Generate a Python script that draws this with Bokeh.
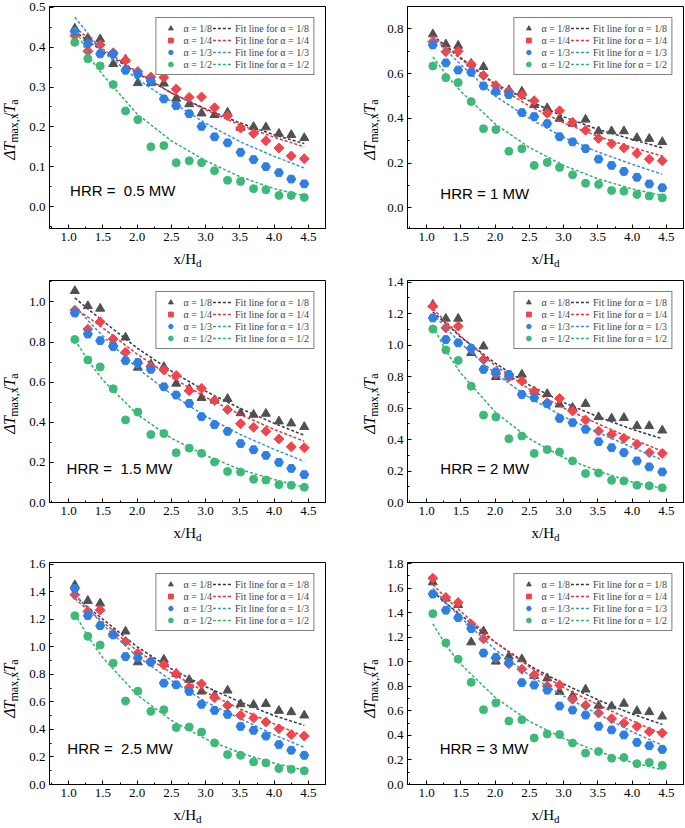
from math import pi
from bokeh.plotting import figure
from bokeh.layouts import column, row
from bokeh.models import (Range1d, SingleIntervalTicker, PrintfTickFormatter,
                          Legend, LegendItem, Label)
from bokeh.embed import file_html
from bokeh.resources import INLINE

# ---------------- data ----------------
x_pos = [1.09, 1.28, 1.46, 1.65, 1.83, 2.01, 2.20, 2.39, 2.57, 2.76,
         2.94, 3.13, 3.32, 3.51, 3.70, 3.88, 4.07, 4.25, 4.44]
fit_x = [1.09, 1.3, 1.5, 2.0, 2.5, 3.0, 3.5, 4.0, 4.44]
alpha_labels = ["1/8", "1/4", "1/3", "1/2"]
hrr_labels = ["HRR =\u00a0 0.5 MW", "HRR = 1 MW", "HRR =\u00a0 1.5 MW",
              "HRR = 2 MW", "HRR =\u00a0 2.5 MW", "HRR = 3 MW"]

# HRR = 0.5 MW
hrr05_a8 = [0.447, 0.423, 0.420, 0.358, 0.369, 0.310, 0.310, 0.309, 0.271, 0.257, 0.234, 0.230, 0.236, 0.198, 0.200, 0.199, 0.183, 0.180, 0.172]
hrr05_a4 = [0.429, 0.390, 0.406, 0.386, 0.367, 0.339, 0.325, 0.324, 0.295, 0.274, 0.275, 0.248, 0.228, 0.197, 0.183, 0.165, 0.147, 0.127, 0.120]
hrr05_a3 = [0.439, 0.409, 0.383, 0.383, 0.342, 0.333, 0.315, 0.270, 0.253, 0.233, 0.201, 0.175, 0.160, 0.136, 0.118, 0.100, 0.085, 0.069, 0.057]
hrr05_a2 = [0.412, 0.371, 0.353, 0.306, 0.240, 0.218, 0.150, 0.153, 0.110, 0.115, 0.110, 0.090, 0.066, 0.063, 0.045, 0.042, 0.028, 0.028, 0.023]
hrr05_fit_a8 = [0.440, 0.413, 0.390, 0.335, 0.285, 0.245, 0.210, 0.180, 0.158]
hrr05_fit_a4 = [0.450, 0.420, 0.395, 0.338, 0.285, 0.243, 0.205, 0.174, 0.150]
hrr05_fit_a3 = [0.475, 0.430, 0.388, 0.320, 0.263, 0.209, 0.163, 0.126, 0.097]
hrr05_fit_a2 = [0.450, 0.375, 0.330, 0.232, 0.165, 0.115, 0.075, 0.045, 0.027]

# HRR = 1 MW
hrr1_a8 = [0.776, 0.731, 0.725, 0.645, 0.630, 0.520, 0.527, 0.520, 0.460, 0.446, 0.399, 0.377, 0.395, 0.343, 0.343, 0.343, 0.313, 0.309, 0.295]
hrr1_a4 = [0.743, 0.698, 0.700, 0.642, 0.592, 0.547, 0.521, 0.505, 0.479, 0.423, 0.434, 0.383, 0.347, 0.310, 0.286, 0.268, 0.243, 0.218, 0.211]
hrr1_a3 = [0.728, 0.648, 0.616, 0.606, 0.545, 0.521, 0.506, 0.426, 0.408, 0.377, 0.318, 0.295, 0.265, 0.218, 0.190, 0.163, 0.137, 0.107, 0.090]
hrr1_a2 = [0.634, 0.582, 0.560, 0.475, 0.354, 0.350, 0.253, 0.264, 0.190, 0.203, 0.181, 0.148, 0.110, 0.105, 0.078, 0.075, 0.060, 0.053, 0.045]
hrr1_fit_a8 = [0.770, 0.720, 0.670, 0.554, 0.479, 0.407, 0.351, 0.306, 0.268]
hrr1_fit_a4 = [0.770, 0.715, 0.665, 0.550, 0.455, 0.380, 0.320, 0.270, 0.232]
hrr1_fit_a3 = [0.765, 0.700, 0.640, 0.500, 0.400, 0.315, 0.250, 0.195, 0.150]
hrr1_fit_a2 = [0.675, 0.590, 0.520, 0.375, 0.270, 0.190, 0.130, 0.085, 0.055]

# HRR = 1.5 MW
hrr15_a8 = [1.055, 0.980, 0.967, 0.793, 0.823, 0.673, 0.689, 0.676, 0.593, 0.567, 0.522, 0.509, 0.517, 0.446, 0.438, 0.443, 0.405, 0.395, 0.377]
hrr15_a4 = [0.959, 0.864, 0.901, 0.815, 0.749, 0.694, 0.678, 0.661, 0.633, 0.557, 0.570, 0.509, 0.463, 0.393, 0.375, 0.355, 0.317, 0.278, 0.273]
hrr15_a3 = [0.945, 0.840, 0.807, 0.777, 0.707, 0.698, 0.664, 0.577, 0.536, 0.494, 0.428, 0.388, 0.355, 0.294, 0.263, 0.235, 0.200, 0.170, 0.139]
hrr15_a2 = [0.813, 0.711, 0.676, 0.567, 0.412, 0.451, 0.339, 0.344, 0.248, 0.271, 0.245, 0.202, 0.155, 0.152, 0.116, 0.112, 0.089, 0.086, 0.076]
hrr15_fit_a8 = [1.020, 0.960, 0.905, 0.770, 0.655, 0.555, 0.470, 0.395, 0.335]
hrr15_fit_a4 = [0.970, 0.920, 0.870, 0.740, 0.625, 0.525, 0.440, 0.365, 0.305]
hrr15_fit_a3 = [0.980, 0.900, 0.830, 0.670, 0.540, 0.430, 0.340, 0.265, 0.205]
hrr15_fit_a2 = [0.810, 0.700, 0.610, 0.440, 0.320, 0.235, 0.165, 0.115, 0.075]

# HRR = 2 MW
hrr2_a8 = [1.256, 1.168, 1.168, 0.950, 0.992, 0.798, 0.796, 0.813, 0.707, 0.690, 0.623, 0.602, 0.627, 0.543, 0.534, 0.538, 0.486, 0.486, 0.458]
hrr2_a4 = [1.246, 1.109, 1.119, 0.978, 0.908, 0.817, 0.798, 0.771, 0.707, 0.633, 0.661, 0.581, 0.524, 0.454, 0.433, 0.408, 0.370, 0.317, 0.312]
hrr2_a3 = [1.172, 1.035, 1.014, 0.978, 0.845, 0.830, 0.813, 0.686, 0.665, 0.627, 0.534, 0.507, 0.465, 0.386, 0.348, 0.317, 0.264, 0.226, 0.194]
hrr2_a2 = [1.102, 0.969, 0.902, 0.739, 0.555, 0.543, 0.405, 0.422, 0.312, 0.336, 0.321, 0.264, 0.184, 0.188, 0.141, 0.137, 0.110, 0.106, 0.093]
hrr2_fit_a8 = [1.210, 1.130, 1.050, 0.885, 0.745, 0.635, 0.545, 0.465, 0.405]
hrr2_fit_a4 = [1.230, 1.140, 1.055, 0.870, 0.720, 0.600, 0.500, 0.405, 0.325]
hrr2_fit_a3 = [1.200, 1.100, 1.010, 0.820, 0.665, 0.545, 0.445, 0.350, 0.270]
hrr2_fit_a2 = [1.120, 0.950, 0.820, 0.575, 0.405, 0.285, 0.200, 0.130, 0.090]

# HRR = 2.5 MW
hrr25_a8 = [1.448, 1.334, 1.315, 1.093, 1.112, 0.888, 0.900, 0.907, 0.804, 0.760, 0.676, 0.647, 0.683, 0.584, 0.579, 0.586, 0.536, 0.526, 0.502]
hrr25_a4 = [1.378, 1.257, 1.267, 1.093, 1.038, 0.953, 0.895, 0.869, 0.804, 0.707, 0.731, 0.630, 0.574, 0.502, 0.483, 0.454, 0.405, 0.362, 0.352]
hrr25_a3 = [1.424, 1.226, 1.153, 1.086, 0.929, 0.919, 0.888, 0.736, 0.724, 0.676, 0.582, 0.538, 0.509, 0.422, 0.393, 0.352, 0.290, 0.249, 0.212]
hrr25_a2 = [1.226, 1.076, 1.013, 0.881, 0.606, 0.678, 0.531, 0.543, 0.413, 0.417, 0.381, 0.302, 0.217, 0.212, 0.164, 0.157, 0.116, 0.111, 0.099]
hrr25_fit_a8 = [1.370, 1.280, 1.200, 1.000, 0.840, 0.710, 0.600, 0.500, 0.430]
hrr25_fit_a4 = [1.350, 1.260, 1.180, 0.970, 0.810, 0.670, 0.550, 0.440, 0.350]
hrr25_fit_a3 = [1.380, 1.270, 1.160, 0.930, 0.755, 0.600, 0.480, 0.360, 0.270]
hrr25_fit_a2 = [1.240, 1.060, 0.920, 0.650, 0.465, 0.330, 0.230, 0.155, 0.105]

# HRR = 3 MW
hrr3_a8 = [1.649, 1.517, 1.465, 1.160, 1.250, 1.003, 1.044, 1.022, 0.885, 0.866, 0.756, 0.723, 0.775, 0.643, 0.638, 0.660, 0.599, 0.591, 0.555]
hrr3_a4 = [1.682, 1.525, 1.484, 1.305, 1.187, 1.030, 0.984, 0.940, 0.893, 0.802, 0.811, 0.695, 0.646, 0.583, 0.536, 0.500, 0.473, 0.431, 0.420]
hrr3_a3 = [1.553, 1.421, 1.360, 1.272, 1.072, 1.036, 0.995, 0.830, 0.811, 0.769, 0.640, 0.607, 0.566, 0.475, 0.445, 0.404, 0.343, 0.316, 0.286]
hrr3_a2 = [1.393, 1.154, 1.022, 0.833, 0.610, 0.665, 0.517, 0.528, 0.379, 0.412, 0.407, 0.338, 0.256, 0.269, 0.214, 0.220, 0.170, 0.179, 0.157]
hrr3_fit_a8 = [1.570, 1.470, 1.380, 1.160, 0.970, 0.820, 0.690, 0.575, 0.490]
hrr3_fit_a4 = [1.630, 1.510, 1.410, 1.160, 0.960, 0.790, 0.650, 0.520, 0.412]
hrr3_fit_a3 = [1.600, 1.470, 1.360, 1.100, 0.890, 0.720, 0.575, 0.430, 0.320]
hrr3_fit_a2 = [1.310, 1.120, 0.980, 0.710, 0.515, 0.375, 0.270, 0.180, 0.120]

# ---------------- styling ----------------
marker_kinds = ["triangle", "square", "hex", "circle"]
marker_sizes = [9, 7, 9, 8]
marker_angles = [0.0, pi / 4, 0.0, 0.0]
marker_colors = ["#505050", "#f0454b", "#2f7fe3", "#3dba78"]
fit_colors = ["#2b3556", "#ee3035", "#3a8fe0", "#2fb56a"]
SERIF = "Liberation Serif"

FRAME_W, FRAME_H = 276, 222
BL, BB = 24, 22


def blank_fig(w, h):
    f = figure(width=w, height=h, x_range=Range1d(0, w), y_range=Range1d(0, h),
               x_axis_type=None, y_axis_type=None, output_backend="svg",
               toolbar_location=None, min_border=0)
    f.min_border_left = f.min_border_right = 0
    f.min_border_top = f.min_border_bottom = 0
    f.outline_line_color = None
    f.background_fill_color = "white"
    f.border_fill_color = "white"
    f.grid.visible = False
    return f


def ylabel_fig(w, h, cx):
    f = blank_fig(w, h)
    pieces = [("\u0394", "italic", 16, 9.8, 0), ("T", "italic", 16, 9.2, 0),
              ("max,x", "normal", 12, 29.0, 4), ("/", "normal", 16, 4.6, 0),
              ("T", "italic", 16, 9.2, 0), ("a", "normal", 12, 5.3, 4)]
    total = sum(pc[3] for pc in pieces)
    y = BB + FRAME_H / 2 + 3 - total / 2 - 25
    for txt, style, fs, pw, sub in pieces:
        f.add_layout(Label(x=cx + sub, y=y, text=txt, angle=pi / 2,
                           text_font=SERIF, text_font_style=style,
                           text_font_size=f"{fs}px", text_color="black",
                           text_align="left", text_baseline="middle"))
        y += pw
    return f


def xlabel_fig(w, h, cx):
    f = blank_fig(w, h)
    pieces = [("x/H", 15, 22.5, 0), ("d", 11, 5.5, -4)]
    total = sum(pc[2] for pc in pieces)
    x = cx - total / 2
    for txt, fs, pw, sub in pieces:
        f.add_layout(Label(x=x, y=h - 8 + sub, text=txt, text_font=SERIF,
                           text_font_size=f"{fs}px", text_color="black",
                           text_align="left", text_baseline="middle"))
        x += pw
    return f


def make_panel(hrr_text, series, fits, yr, yint, txt_xy, bt, br):
    w = BL + FRAME_W + br
    h = bt + FRAME_H + BB
    p = figure(width=w, height=h, x_range=Range1d(0.72, 4.75),
               y_range=Range1d(*yr), output_backend="svg",
               toolbar_location=None, min_border_left=BL,
               min_border_right=br, min_border_top=bt, min_border_bottom=BB)
    p.xgrid.visible = False
    p.ygrid.visible = False
    p.outline_line_color = "black"
    p.outline_line_alpha = 1.0
    p.outline_line_width = 1
    p.background_fill_color = "white"
    p.border_fill_color = "white"
    p.xaxis.ticker = SingleIntervalTicker(interval=0.5, num_minor_ticks=2)
    p.yaxis.ticker = SingleIntervalTicker(interval=yint, num_minor_ticks=2)
    for ax in (p.xaxis[0], p.yaxis[0]):
        ax.formatter = PrintfTickFormatter(format="%.1f")
        ax.major_tick_in = 4
        ax.major_tick_out = 0
        ax.minor_tick_in = 2
        ax.minor_tick_out = 0
        ax.axis_line_color = "black"
        ax.major_tick_line_color = "black"
        ax.minor_tick_line_color = "black"
        ax.major_label_text_font = SERIF
        ax.major_label_text_font_size = "13px"
        ax.major_label_text_color = "black"
        ax.major_label_standoff = 4

    pt_items, fit_items = [], []
    for k in range(4):
        rf = p.line(fit_x, fits[k], line_color=fit_colors[k], line_width=1.5,
                    line_dash="3 2")
        rs = p.scatter(x_pos, series[k], marker=marker_kinds[k],
                       size=marker_sizes[k], angle=marker_angles[k],
                       fill_color=marker_colors[k], line_color=marker_colors[k])
        pt_items.append(LegendItem(label="\u03b1 = " + alpha_labels[k], renderers=[rs]))
        fit_items.append(LegendItem(label="Fit line for \u03b1 = " + alpha_labels[k],
                                    renderers=[rf]))
    legend = Legend(items=pt_items + fit_items, ncols=2, location="top_right",
                    border_line_color="black", border_line_width=1,
                    background_fill_color="white", background_fill_alpha=1.0,
                    label_text_font=SERIF, label_text_font_size="10px",
                    glyph_width=20, glyph_height=12, label_height=12,
                    label_standoff=3, spacing=0, padding=4, margin=11)
    p.add_layout(legend)

    p.add_layout(Label(x=txt_xy[0], y=txt_xy[1], text=hrr_text,
                       text_font="Liberation Sans", text_font_size="15px",
                       text_color="black", text_baseline="middle",
                       text_align="left"))
    return p


def block(panel, ylab_w, xlab_h, label_cx):
    yl = ylabel_fig(ylab_w, panel.height, label_cx)
    xl = xlabel_fig(ylab_w + panel.width, xlab_h, ylab_w + BL + FRAME_W / 2)
    return column(row(yl, panel), xl)


LEFT_YW, RIGHT_YW = 25, 48
LEFT_BR, RIGHT_BR = 10, 1
LEFT_CX, RIGHT_CX = 9, 34

p1 = make_panel(hrr_labels[0], [hrr05_a8, hrr05_a4, hrr05_a3, hrr05_a2],
                [hrr05_fit_a8, hrr05_fit_a4, hrr05_fit_a3, hrr05_fit_a2],
                (-0.055, 0.502), 0.1, (1.02, 0.041), 6, LEFT_BR)
p2 = make_panel(hrr_labels[1], [hrr1_a8, hrr1_a4, hrr1_a3, hrr1_a2],
                [hrr1_fit_a8, hrr1_fit_a4, hrr1_fit_a3, hrr1_fit_a2],
                (-0.092, 0.9), 0.2, (1.2, 0.065), 6, RIGHT_BR)
p3 = make_panel(hrr_labels[2], [hrr15_a8, hrr15_a4, hrr15_a3, hrr15_a2],
                [hrr15_fit_a8, hrr15_fit_a4, hrr15_fit_a3, hrr15_fit_a2],
                (0.0, 1.107), 0.2, (0.97, 0.169), 6, LEFT_BR)
p4 = make_panel(hrr_labels[3], [hrr2_a8, hrr2_a4, hrr2_a3, hrr2_a2],
                [hrr2_fit_a8, hrr2_fit_a4, hrr2_fit_a3, hrr2_fit_a2],
                (0.0, 1.41), 0.2, (1.2, 0.215), 6, RIGHT_BR)
p5 = make_panel(hrr_labels[4], [hrr25_a8, hrr25_a4, hrr25_a3, hrr25_a2],
                [hrr25_fit_a8, hrr25_fit_a4, hrr25_fit_a3, hrr25_fit_a2],
                (0.0, 1.612), 0.2, (0.98, 0.26), 14, LEFT_BR)
p6 = make_panel(hrr_labels[5], [hrr3_a8, hrr3_a4, hrr3_a3, hrr3_a2],
                [hrr3_fit_a8, hrr3_fit_a4, hrr3_fit_a3, hrr3_fit_a2],
                (0.0, 1.81), 0.2, (1.19, 0.29), 14, RIGHT_BR)

layout = column(
    row(block(p1, LEFT_YW, 24, LEFT_CX), block(p2, RIGHT_YW, 24, RIGHT_CX)),
    row(block(p3, LEFT_YW, 24, LEFT_CX), block(p4, RIGHT_YW, 24, RIGHT_CX)),
    row(block(p5, LEFT_YW, 20, LEFT_CX), block(p6, RIGHT_YW, 20, RIGHT_CX)),
)
open("out.html", "w").write(file_html(layout, INLINE))
